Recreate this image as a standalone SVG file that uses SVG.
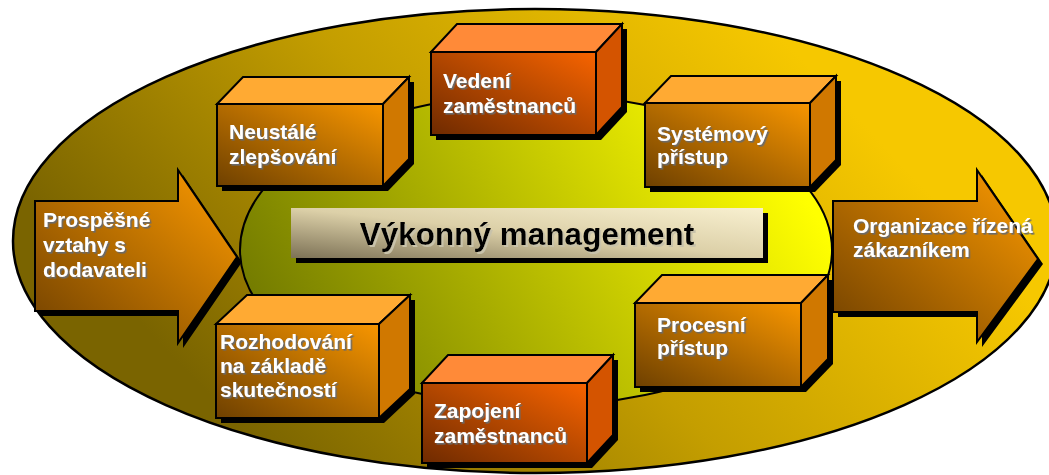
<svg xmlns="http://www.w3.org/2000/svg" width="1049" height="475" viewBox="0 0 1049 475">
  <defs>
    <linearGradient id="gOuter" gradientUnits="userSpaceOnUse" x1="280" y1="470" x2="760" y2="15">
      <stop offset="0" stop-color="#7A6400"/>
      <stop offset="0.5" stop-color="#C49E00"/>
      <stop offset="1" stop-color="#F6C800"/>
    </linearGradient>
    <linearGradient id="gInner" gradientUnits="userSpaceOnUse" x1="300" y1="390" x2="760" y2="120">
      <stop offset="0" stop-color="#727A00"/>
      <stop offset="1" stop-color="#FFFF00"/>
    </linearGradient>
    <linearGradient id="gLabel" x1="0" y1="1" x2="1" y2="0">
      <stop offset="0" stop-color="#7D7256"/>
      <stop offset="0.5" stop-color="#DCD0A8"/>
      <stop offset="1" stop-color="#F8F0D0"/>
    </linearGradient>
    <linearGradient id="gAmber" x1="0" y1="1" x2="1" y2="0">
      <stop offset="0" stop-color="#6E4000"/>
      <stop offset="1" stop-color="#F89600"/>
    </linearGradient>
    <linearGradient id="gRed" x1="0" y1="1" x2="1" y2="0">
      <stop offset="0" stop-color="#6E2A00"/>
      <stop offset="1" stop-color="#F86400"/>
    </linearGradient>
    <linearGradient id="gArrow" x1="0" y1="1" x2="1" y2="0">
      <stop offset="0" stop-color="#704000"/>
      <stop offset="1" stop-color="#FF9C00"/>
    </linearGradient>
    <filter id="shText" x="-10%" y="-30%" width="120%" height="160%">
      <feDropShadow dx="1.6" dy="1.6" stdDeviation="0" flood-color="#6A6A6A"/>
    </filter>
    <filter id="shTitle" x="-10%" y="-30%" width="120%" height="160%">
      <feDropShadow dx="2" dy="2" stdDeviation="0" flood-color="#C8C2AA"/>
    </filter>
  </defs>
  <style>
    .edge { stroke: #000; stroke-width: 2; stroke-linejoin: miter; }
    .shadow { fill: #000; }
    .amber .front { fill: url(#gAmber); }
    .amber .top { fill: #FFAA33; }
    .amber .side { fill: #D07800; }
    .red .front { fill: url(#gRed); }
    .red .top { fill: #FF8A38; }
    .red .side { fill: #D45400; }
    .lbl { font-family: "Liberation Sans", Arial, sans-serif; font-weight: bold; font-size: 21px; fill: #FFFFFF; filter: url(#shText); }
    .title { font-family: "Liberation Sans", Arial, sans-serif; font-weight: bold; font-size: 31.5px; fill: #000000; filter: url(#shTitle); }
  </style>

  <!-- background rings -->
  <g id="outer-ring">
    <ellipse cx="535" cy="241" rx="522" ry="232" fill="url(#gOuter)" stroke="#000" stroke-width="2.5"/>
  </g>
  <g id="inner-ring">
    <ellipse cx="536" cy="250" rx="296" ry="156" fill="url(#gInner)" stroke="#000" stroke-width="2"/>
  </g>

  <!-- input / output arrows -->
  <g id="connectors">
    <g id="arrow-in">
      <polygon class="shadow" points="40,206 183,206 183,175 242,262 183,348 183,316 40,316"/>
      <polygon class="edge" fill="url(#gArrow)" points="35,201 178,201 178,170 237,257 178,343 178,311 35,311"/>
      <text class="lbl" x="43" y="227">Prospěšné</text>
      <text class="lbl" x="43" y="252">vztahy s</text>
      <text class="lbl" x="43" y="277">dodavateli</text>
    </g>
    <g id="arrow-out">
      <polygon class="shadow" points="838,206 982,206 982,175 1043,264 982,347 982,317 838,317"/>
      <polygon class="edge" fill="url(#gArrow)" points="833,201 977,201 977,170 1038,259 977,342 977,312 833,312"/>
      <text class="lbl" x="853" y="233">Organizace řízená</text>
      <text class="lbl" x="853" y="257">zákazníkem</text>
    </g>
  </g>

  <!-- central title -->
  <g id="title">
    <rect class="shadow" x="296" y="213" width="472" height="50"/>
    <rect x="291" y="208" width="472" height="50" fill="url(#gLabel)"/>
    <text class="title" x="527" y="245" text-anchor="middle">Výkonný management</text>
  </g>

  <!-- principle blocks -->
  <g id="vedeni" class="red">
    <polygon class="shadow" points="436,57 462,29 627,29 627,112 601,140 436,140"/>
    <polygon class="front edge" points="431,52 596,52 596,135 431,135"/>
    <polygon class="top edge" points="431,52 457,24 622,24 596,52"/>
    <polygon class="side edge" points="596,52 622,24 622,107 596,135"/>
    <text class="lbl" x="443" y="88">Vedení</text>
    <text class="lbl" x="443" y="113">zaměstnanců</text>
  </g>

  <g id="neustale" class="amber">
    <polygon class="shadow" points="222,109 248,82 414,82 414,164 388,191 222,191"/>
    <polygon class="front edge" points="217,104 383,104 383,186 217,186"/>
    <polygon class="top edge" points="217,104 243,77 409,77 383,104"/>
    <polygon class="side edge" points="383,104 409,77 409,159 383,186"/>
    <text class="lbl" x="229" y="139">Neustálé</text>
    <text class="lbl" x="229" y="164">zlepšování</text>
  </g>

  <g id="systemovy" class="amber">
    <polygon class="shadow" points="650,108 676,81 841,81 841,165 815,192 650,192"/>
    <polygon class="front edge" points="645,103 810,103 810,187 645,187"/>
    <polygon class="top edge" points="645,103 671,76 836,76 810,103"/>
    <polygon class="side edge" points="810,103 836,76 836,160 810,187"/>
    <text class="lbl" x="657" y="141">Systémový</text>
    <text class="lbl" x="657" y="164">přístup</text>
  </g>

  <g id="rozhodovani" class="amber">
    <polygon class="shadow" points="221,329 252,300 415,300 415,394 384,423 221,423"/>
    <polygon class="front edge" points="216,324 379,324 379,418 216,418"/>
    <polygon class="top edge" points="216,324 247,295 410,295 379,324"/>
    <polygon class="side edge" points="379,324 410,295 410,389 379,418"/>
    <text class="lbl" x="220" y="349">Rozhodování</text>
    <text class="lbl" x="220" y="373">na základě</text>
    <text class="lbl" x="220" y="397">skutečností</text>
  </g>

  <g id="zapojeni" class="red">
    <polygon class="shadow" points="427,388 453,360 618,360 618,440 592,468 427,468"/>
    <polygon class="front edge" points="422,383 587,383 587,463 422,463"/>
    <polygon class="top edge" points="422,383 448,355 613,355 587,383"/>
    <polygon class="side edge" points="587,383 613,355 613,435 587,463"/>
    <text class="lbl" x="434" y="418">Zapojení</text>
    <text class="lbl" x="434" y="443">zaměstnanců</text>
  </g>

  <g id="procesni" class="amber">
    <polygon class="shadow" points="640,308 667,280 833,280 833,364 806,392 640,392"/>
    <polygon class="front edge" points="635,303 801,303 801,387 635,387"/>
    <polygon class="top edge" points="635,303 662,275 828,275 801,303"/>
    <polygon class="side edge" points="801,303 828,275 828,359 801,387"/>
    <text class="lbl" x="657" y="332">Procesní</text>
    <text class="lbl" x="657" y="355">přístup</text>
  </g>
</svg>
